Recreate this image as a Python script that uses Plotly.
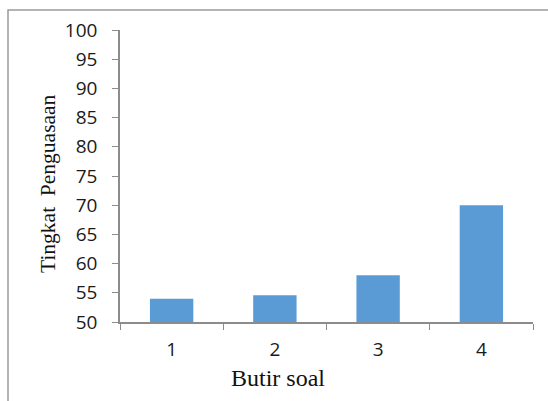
import plotly.graph_objects as go

# Mastery level per test item
butir = ["1", "2", "3", "4"]
tingkat = [54, 54.6, 58, 70]
y_ticks = [50, 55, 60, 65, 70, 75, 80, 85, 90, 95, 100]

axis_grey = "#8c8c8c"
bar_blue = "#5b9bd5"

fig = go.Figure(
    go.Bar(
        x=butir,
        y=tingkat,
        marker=dict(color=bar_blue, line=dict(width=0)),
    )
)

fig.update_layout(
    width=548,
    height=401,
    margin=dict(l=120, r=15, t=30, b=79),
    paper_bgcolor="white",
    plot_bgcolor="white",
    bargap=0.58,
    showlegend=False,
    font=dict(family="Open Sans", size=19, color="#1a1a1a"),
    shapes=[
        dict(
            type="rect", xref="paper", yref="paper",
            x0=-112 / 413, x1=1.2, y0=-0.5, y1=1 + 20 / 292,
            line=dict(color="#9a9a9a", width=1.5),
            fillcolor="rgba(0,0,0,0)", layer="below",
        )
    ],
    annotations=[
        dict(
            text="Butir soal", xref="paper", yref="paper",
            x=(278 - 120) / 413, y=-56 / 292, xanchor="center", yanchor="middle",
            showarrow=False,
            font=dict(family="Liberation Serif", size=24, color="#111111"),
        ),
        dict(
            text="Tingkat  Penguasaan", xref="paper", yref="paper",
            x=-72 / 413, y=(322 - 184) / 292, xanchor="center", yanchor="middle",
            textangle=-90, showarrow=False,
            font=dict(family="Liberation Serif", size=21.5, color="#111111"),
        ),
    ],
)

fig.update_xaxes(
    type="category",
    showline=True, linecolor=axis_grey, linewidth=1.5,
    ticks="outside", tickson="boundaries", ticklen=6, tickcolor=axis_grey, tickwidth=1,
    showgrid=False, zeroline=False,
    ticklabelstandoff=9,
)
fig.update_yaxes(
    range=[50, 100],
    tickvals=y_ticks,
    showline=True, linecolor=axis_grey, linewidth=1.5,
    ticks="outside", ticklen=6, tickcolor=axis_grey, tickwidth=1,
    showgrid=False, zeroline=False,
    ticklabelstandoff=11,
)

fig.write_html("out.html")
